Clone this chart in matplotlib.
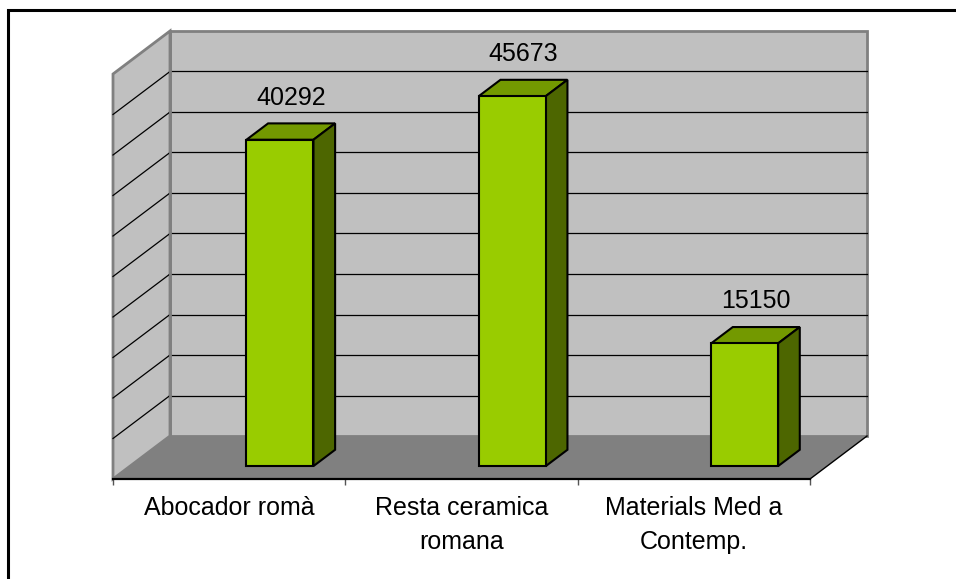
import matplotlib
matplotlib.use('Agg')
import matplotlib.pyplot as plt
from matplotlib.patches import Polygon, Rectangle

categories = ['Abocador romà', 'Resta ceramica\nromana', 'Materials Med a\nContemp.']
values = [40292, 45673, 15150]
grid_values = list(range(0, 50001, 5000))

W, H = 956, 579
plt.rcParams['font.family'] = ['Liberation Sans', 'DejaVu Sans']

fig = plt.figure(figsize=(W / 100, H / 100), dpi=100)
# front plane of the plot: x 0..3 categories, y 0..50000
ax = fig.add_axes([113 / W, 100 / H, 697 / W, 405 / H])
ax.set_xlim(0, 3)
ax.set_ylim(0, 50000)
ax.patch.set_visible(False)

px_x = 3 / 697          # category units per pixel
px_y = 50000 / 405      # value units per pixel
DX = 57 * px_x          # full depth offset
DY = 43 * px_y

wall = '#C0C0C0'
floor = '#808080'
edge = '#808080'

def poly(pts, fc, ec='none', lw=0, z=1):
    ax.add_patch(Polygon(pts, closed=True, facecolor=fc, edgecolor=ec,
                         linewidth=lw, zorder=z, clip_on=False,
                         joinstyle='miter'))

ymax = grid_values[-1]
# back wall, left wall, floor
poly([(DX, DY), (3 + DX, DY), (3 + DX, ymax + DY), (DX, ymax + DY)], wall, edge, 2, 1)
poly([(0, 0), (DX, DY), (DX, ymax + DY), (0, ymax)], wall, edge, 2, 1)
poly([(0, 0), (3, 0), (3 + DX, DY), (DX, DY)], floor, 'none', 0, 2)
ax.plot([3, 3 + DX], [0, DY], color='black', lw=1, zorder=2, clip_on=False)

for g in grid_values[1:-1]:
    ax.plot([DX, 3 + DX], [g + DY, g + DY], color='black', lw=0.9, zorder=1.5, clip_on=False)
    ax.plot([0, DX], [g, g + DY], color='black', lw=0.9, zorder=1.5, clip_on=False)
ax.plot([DX, DX], [DY, ymax + DY], color=edge, lw=2, zorder=1.6, clip_on=False)

# bars
d0, d1 = 0.3, 0.68
bw = 67 * px_x
front = '#99CC00'
top = '#739900'
side = '#4D6600'
for i, v in enumerate(values):
    c = i + 0.645
    x0, x1 = c - bw / 2, c + bw / 2
    fx0, fy0 = d0 * DX, d0 * DY
    bx0, by0 = d1 * DX, d1 * DY
    poly([(x0 + fx0, v + fy0), (x1 + fx0, v + fy0), (x1 + bx0, v + by0), (x0 + bx0, v + by0)],
         top, 'black', 1.5, 3)
    poly([(x1 + fx0, fy0), (x1 + bx0, by0), (x1 + bx0, v + by0), (x1 + fx0, v + fy0)],
         side, 'black', 1.5, 3)
    poly([(x0 + fx0, fy0), (x1 + fx0, fy0), (x1 + fx0, v + fy0), (x0 + fx0, v + fy0)],
         front, 'black', 1.5, 4)
    ax.annotate(str(v), xy=(c + (d0 + d1) / 2 * DX, v + by0), xytext=(0, 10),
                textcoords='offset points', ha='center', va='bottom',
                fontsize=18, zorder=5, annotation_clip=False)

# axis: front floor edge, ticks and category labels
for s in ['top', 'left', 'right']:
    ax.spines[s].set_visible(False)
ax.spines['bottom'].set_color('black')
ax.spines['bottom'].set_linewidth(1.6)
ax.spines['bottom'].set_zorder(6)
ax.set_yticks([])
ax.set_xticks([0, 1, 2, 3])
ax.set_xticklabels([])
ax.tick_params(axis='x', which='major', direction='out', length=4.5, width=1, color='#555555')
ax.set_xticks([0.5, 1.5, 2.5], minor=True)
ax.set_xticklabels(categories, minor=True, fontsize=18, linespacing=1.55)
ax.tick_params(axis='x', which='minor', length=0, pad=12)

# outer chart border (cropped on right and bottom)
fig.add_artist(Rectangle((8 / W, -0.2), 2, (H - 10) / H + 0.2, transform=fig.transFigure,
                         fill=False, edgecolor='black', linewidth=2.2))

fig.savefig('out.png', dpi=100)
